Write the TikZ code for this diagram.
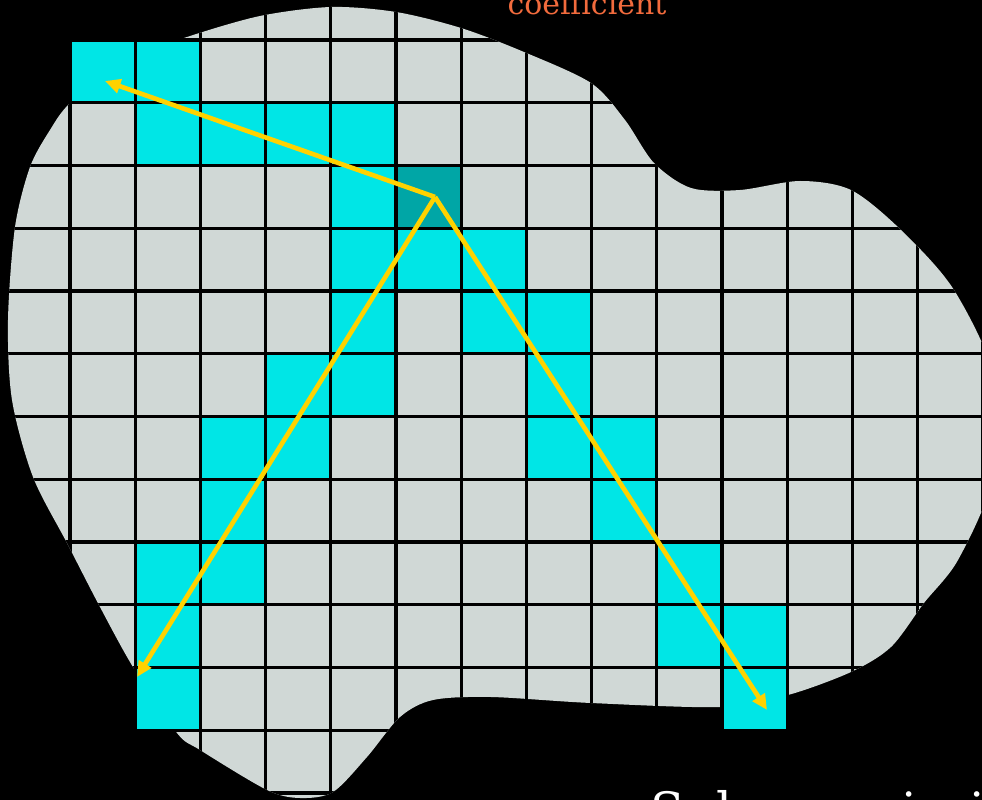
\documentclass[tikz,border=0pt]{standalone}
\usepackage{fontspec}
\setmainfont{DejaVu Serif}
\usepackage{tikz}
\usetikzlibrary{arrows.meta}
\definecolor{colGris}{HTML}{D0D8D6}
\definecolor{colCian}{HTML}{00E6E6}
\definecolor{colCentro}{HTML}{00A6A6}
\definecolor{colRayo}{HTML}{FFD200}
\definecolor{colNaranja}{HTML}{F26B3D}

\begin{document}
\begin{tikzpicture}[
        x=0.025cm, y=-0.025cm,
        cell/.style={draw=black, line width=2.4pt, fill=colCian},
        gridline/.style={draw=black, line width=2.4pt},
        ray/.style={-{Triangle[length=11pt, width=10pt]}, line width=3.3pt, draw=colRayo},
        lbl/.style={inner sep=0pt, anchor=base}
    ]
        % Fondo y marco fijo
        \fill[black] (0,0) rectangle (982,800);
        \useasboundingbox (0,0) rectangle (982,800);

        % Region (blob) en gris
        \def\blob{plot[smooth cycle] coordinates {
            (187,37) (260,16) (331,7) (396,12) (461,28) (524,52) (591,83)
            (625,120) (654,163) (691,188) (740,190) (800,181) (851,190)
            (901,230) (954,290) (995,380) (992,480) (958,560) (924,603)
            (891,647) (851,672) (788,695) (721,707) (591,703) (491,697)
            (433,700) (400,717) (367,757) (333,792) (300,798) (267,790)
            (200,750) (177,733) (133,667) (100,607) (67,543) (33,477)
            (12,400) (8,320) (15,227) (30,167) (50,130) (70,103) (120,62)}}
        \fill[colGris] \blob;

        % Celdas marcadas
        \foreach \c/\r in {0/0,1/0,1/1,2/1,3/1,4/1,4/2,4/3,5/3,6/3,4/4,6/4,7/4,
                           3/5,4/5,7/5,2/6,3/6,7/6,8/6,2/7,8/7,1/8,2/8,9/8,
                           1/9,9/9,10/9,1/10,10/10}
            \draw[cell] ({70+65.2*\c},{40+62.75*\r}) rectangle ++(65.2,62.75);
        \draw[cell, fill=colCentro] ({70+65.2*5},{40+62.75*2}) rectangle ++(65.2,62.75);

        % Rejilla recortada a la region
        \begin{scope}
            \clip \blob;
            \foreach \i in {-1,...,14}
                \draw[gridline] ({70+65.2*\i},0) -- ({70+65.2*\i},800);
            \foreach \j in {0,...,12}
                \draw[gridline] (0,{40+62.75*\j}) -- (982,{40+62.75*\j});
        \end{scope}

        % Rayos desde la celda central
        \coordinate (origen) at (435,197);
        \coordinate (finNO) at (105,81);
        \coordinate (finSO) at (137,677);
        \coordinate (finSE) at (767,710);
        \draw[ray] (origen) -- (finNO);
        \draw[ray] (origen) -- (finSO);
        \draw[ray] (origen) -- (finSE);

        % Textos
        \node[lbl, text=colNaranja, font=\fontsize{21.3}{25}\selectfont] (coef) at (587,15) {coefficient};
        \node[lbl, anchor=base west, text=white, font=\fontsize{35.6}{40}\selectfont] (titulo) at (650,828) {Subcommission};
    \end{tikzpicture}
\end{document}
